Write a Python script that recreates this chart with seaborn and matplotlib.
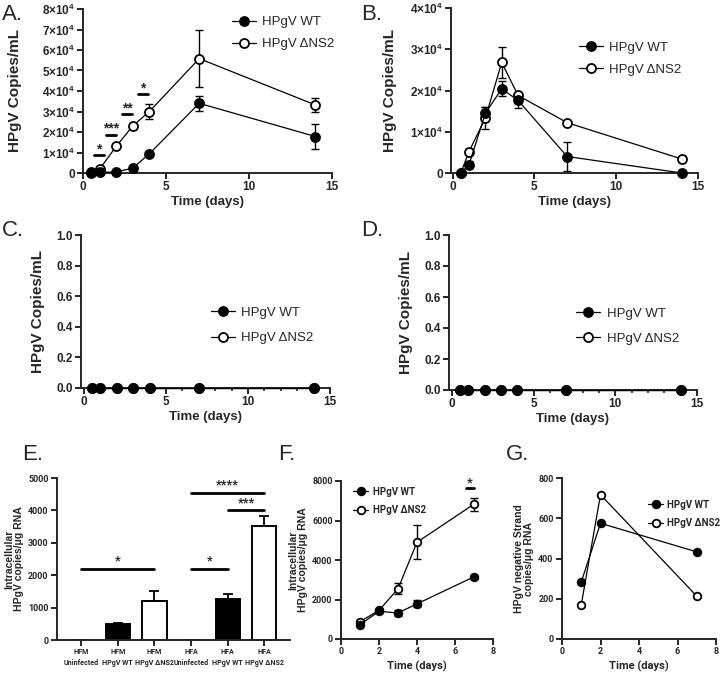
import numpy as np
import pandas as pd
import matplotlib
matplotlib.use("Agg")
import matplotlib.pyplot as plt
import seaborn as sns
from matplotlib import font_manager as fm
from matplotlib.ticker import FuncFormatter, MultipleLocator

# ---- data ----
days = [0.5, 1, 2, 3, 4, 7, 14]
a_wt = [0, 300, 500, 2400, 9400, 34000, 17800]
a_wt_sd = [0, 0, 0, 300, 500, 3600, 6100]
a_dn = [600, 1900, 13000, 23000, 30000, 55800, 33200]
a_dn_sd = [0, 300, 500, 600, 3900, 13900, 3200]
a_sig_x = [0.95, 1.7, 2.65, 3.6]
a_sig_y = [8600, 18700, 28700, 38500]
a_sig_txt = ["*", "***", "**", "*"]

b_wt = [0, 2000, 14500, 20400, 17600, 4000, 0]
b_wt_sd = [0, 800, 1500, 1800, 1800, 3500, 0]
b_dn = [0, 5200, 13300, 26800, 18800, 12200, 3400]
b_dn_sd = [0, 500, 2700, 3800, 500, 300, 800]

c_wt = [0, 0, 0, 0, 0, 0, 0]
c_dn = [0, 0, 0, 0, 0, 0, 0]
d_wt = [0, 0, 0, 0, 0, 0, 0]
d_dn = [0, 0, 0, 0, 0, 0, 0]

e_labels = ["HFM\nUninfected", "HFM\nHPgV WT", "HFM\nHPgV \u0394NS2",
            "HFA\nUninfected", "HFA\nHPgV WT", "HFA\nHPgV \u0394NS2"]
e_vals = [0, 490, 1210, 0, 1270, 3520]
e_sd = [0, 20, 290, 0, 150, 300]
e_colors = ["white", "black", "white", "white", "black", "white"]
e_sig = [(0, 2, 2200, "*"), (3, 4, 2200, "*"), (3, 5, 4550, "****"), (4, 5, 4000, "***")]

f_days = [1, 2, 3, 4, 7]
f_wt = [730, 1400, 1320, 1780, 3150]
f_wt_sd = [90, 100, 150, 180, 100]
f_dn = [880, 1450, 2540, 4900, 6830]
f_dn_sd = [60, 80, 280, 850, 330]

g_days = [1, 2, 7]
g_wt = [283, 575, 433]
g_dn = [170, 717, 213]

WT = "HPgV WT"
DN = "HPgV \u0394NS2"

sns.set_style("ticks")
plt.rcParams["font.family"] = ["Liberation Sans", "DejaVu Sans"]
plt.rcParams["mathtext.fontset"] = "custom"
plt.rcParams["mathtext.rm"] = "Liberation Sans"
plt.rcParams["mathtext.bf"] = "Liberation Sans:bold"
plt.rcParams["axes.linewidth"] = 1.4
plt.rcParams["xtick.major.width"] = 1.4
plt.rcParams["ytick.major.width"] = 1.4
plt.rcParams["xtick.major.size"] = 4
plt.rcParams["ytick.major.size"] = 4
plt.rcParams["xtick.minor.width"] = 1.2
plt.rcParams["xtick.minor.size"] = 2.5


# narrow-ish bold face for the lower row (no condensed family is installed)
def nfp(size):
    return fm.FontProperties(family=["Roboto", "Liberation Sans"], weight="bold", size=size)


W, H = 720, 683
fig = plt.figure(figsize=(7.2, 6.83), dpi=100)


def add_ax(l, t, r, b):
    return fig.add_axes([l / W, 1 - b / H, (r - l) / W, (b - t) / H])


def label(x, y, s):
    fig.text(x / W, 1 - y / H, s, fontsize=16, ha="left", va="center")


def growth(ax, x, wt, dn, wt_sd=None, dn_sd=None, ms=6.5, lw=0.9):
    for vals, sd, face, name, z in [(dn, dn_sd, "white", DN, 3), (wt, wt_sd, "black", WT, 4)]:
        if sd is not None:
            xs = [a for a, s in zip(x, sd) if s > 0]
            ys = [v for v, s in zip(vals, sd) if s > 0]
            ss = [s for s in sd if s > 0]
            ax.errorbar(xs, ys, yerr=ss, fmt="none", ecolor="black", elinewidth=1,
                        capsize=3, capthick=1, zorder=2)
        sns.lineplot(x=x, y=vals, ax=ax, color="black", lw=lw, marker="o", markersize=ms,
                     markerfacecolor=face, markeredgecolor="black", markeredgewidth=1.3,
                     label=name, zorder=z, clip_on=False)
    h, l = ax.get_legend_handles_labels()
    return h[::-1], l[::-1]


def style(ax, fs_tick=8.5, narrow=False):
    sns.despine(ax=ax)
    for t in ax.get_xticklabels() + ax.get_yticklabels():
        if narrow:
            t.set_fontproperties(nfp(fs_tick))
        else:
            t.set_fontweight("bold")
            t.set_fontsize(fs_tick)
    ax.tick_params(pad=2)


sci = FuncFormatter(lambda v, p: "0" if v == 0 else
                    f"{int(round(v / 1e4))}\u00d710" + r"$^{\mathbf{4}}$")

# ---- A ----
ax = add_ax(83, 9, 332, 173)
h, l = growth(ax, days, a_wt, a_dn, a_wt_sd, a_dn_sd)
for sx, sy, st in zip(a_sig_x, a_sig_y, a_sig_txt):
    ax.plot([sx - 0.3, sx + 0.3], [sy, sy], color="black", lw=2)
    ax.text(sx, sy - 600, st, ha="center", va="bottom", fontsize=10, fontweight="bold")
ax.set_xlim(0, 15)
ax.set_ylim(0, 80000)
ax.set_xticks([0, 5, 10, 15])
ax.yaxis.set_major_locator(MultipleLocator(10000))
ax.yaxis.set_major_formatter(sci)
ax.set_xlabel("Time (days)", fontsize=9.5, fontweight="bold", labelpad=2)
ax.set_ylabel("HPgV Copies/mL", fontsize=11, fontweight="bold", labelpad=14)
ax.legend(h, l, frameon=False, loc="upper left", bbox_to_anchor=(0.55, 1.03),
          fontsize=9.5, handlelength=1.8, handletextpad=0.5, labelspacing=0.75)
style(ax)
label(2, 14, "A.")

# ---- B ----
ax = add_ax(451, 8, 698, 173)
h, l = growth(ax, days, b_wt, b_dn, b_wt_sd, b_dn_sd)
ax.set_xlim(-0.1, 15)
ax.set_ylim(0, 40000)
ax.set_xticks([0, 5, 10, 15])
ax.yaxis.set_major_locator(MultipleLocator(10000))
ax.yaxis.set_major_formatter(sci)
ax.set_xlabel("Time (days)", fontsize=9.5, fontweight="bold", labelpad=2)
ax.set_ylabel("HPgV Copies/mL", fontsize=11, fontweight="bold", labelpad=9)
ax.legend(h, l, frameon=False, loc="upper left", bbox_to_anchor=(0.47, 0.87),
          fontsize=9.5, handlelength=1.8, handletextpad=0.5, labelspacing=0.75)
style(ax)
label(361, 14, "B.")

# ---- C, D ----
for (l0, t0, r0, b0), wt, dn, lab, lx, lgx in [((81, 235, 330, 388), c_wt, c_dn, "C.", 2, 0.475),
                                              ((449, 235, 697, 390), d_wt, d_dn, "D.", 361, 0.465)]:
    ax = add_ax(l0, t0, r0, b0)
    h, l = growth(ax, days, wt, dn, ms=6.5)
    ax.set_xlim(-0.18, 15)
    ax.set_ylim(0, 1)
    ax.set_xticks([0, 5, 10, 15])
    ax.xaxis.set_minor_locator(MultipleLocator(1))
    ax.set_yticks([0, 0.2, 0.4, 0.6, 0.8, 1.0])
    ax.yaxis.set_major_formatter(FuncFormatter(lambda v, p: f"{v:.1f}"))
    ax.set_xlabel("Time (days)", fontsize=9.5, fontweight="bold", labelpad=2)
    ax.set_ylabel("HPgV Copies/mL", fontsize=11, fontweight="bold", labelpad=8)
    ax.legend(h, l, frameon=False, loc="upper left", bbox_to_anchor=(lgx, 0.61),
              fontsize=9.5, handlelength=1.8, handletextpad=0.5, labelspacing=1.0)
    style(ax)
    label(lx, 231, lab)

# ---- E ----
ax = add_ax(57, 478, 290, 640)
sns.barplot(x=e_labels, y=e_vals, hue=e_labels, palette=e_colors, legend=False,
            edgecolor="black", linewidth=1.4, width=0.66, ax=ax, zorder=2)
xs = np.arange(len(e_labels))
ax.errorbar(xs[[1, 2, 4, 5]], np.array(e_vals)[[1, 2, 4, 5]],
            yerr=[np.zeros(4), np.array(e_sd)[[1, 2, 4, 5]]], fmt="none",
            ecolor="black", elinewidth=1.3, capsize=3.5, capthick=1.3, zorder=1)
for x0, x1, y, st in e_sig:
    ax.plot([x0, x1], [y, y], color="black", lw=2)
    ax.text((x0 + x1) / 2, y + 40, st, ha="center", va="bottom",
            fontproperties=nfp(9))
ax.set_xlim(-0.66, 5.7)
ax.set_ylim(0, 5000)
ax.set_yticks([0, 1000, 2000, 3000, 4000, 5000])
ax.set_ylabel("Intracellular\nHPgV copies/\u03bcg RNA", fontsize=7.5,
              fontweight="bold", labelpad=3, linespacing=1.0)
style(ax, fs_tick=6.5, narrow=True)
for t in ax.get_xticklabels():
    t.set_fontproperties(nfp(5.1))
    t.set_linespacing(1.5)
label(22, 454, "E.")

# ---- F ----
ax = add_ax(341, 481, 493, 639)
h, l = growth(ax, f_days, f_wt, f_dn, f_wt_sd, f_dn_sd, ms=5.5)
ax.plot([6.6, 7.0], [7650, 7650], color="black", lw=2)
ax.text(6.8, 7600, "*", ha="center", va="bottom", fontproperties=nfp(9))
ax.set_xlim(0, 8)
ax.set_ylim(0, 8000)
ax.set_xticks([0, 2, 4, 6, 8])
ax.set_yticks([0, 2000, 4000, 6000, 8000])
ax.set_xlabel("Time (days)", labelpad=3, fontproperties=nfp(8))
ax.set_ylabel("Intracellular\nHPgV copies/\u03bcg RNA", fontsize=7.5,
              fontweight="bold", labelpad=3, linespacing=1.0)
ax.legend(h, l, frameon=False, loc="upper left", bbox_to_anchor=(0.02, 1.02),
          prop=nfp(7), handlelength=1.6, handletextpad=0.5, labelspacing=0.9)
style(ax, fs_tick=6.5, narrow=True)
label(278, 454, "F.")

# ---- G ----
ax = add_ax(562, 478, 716, 639)
h, l = growth(ax, g_days, g_wt, g_dn, ms=5.5)
ax.set_xlim(0, 8)
ax.set_ylim(0, 800)
ax.set_xticks([0, 2, 4, 6, 8])
ax.set_yticks([0, 200, 400, 600, 800])
ax.set_xlabel("Time (days)", labelpad=3, fontproperties=nfp(8))
ax.set_ylabel("HPgV negative Strand\ncopies/\u03bcg RNA", fontsize=7.5,
              fontweight="bold", labelpad=3, linespacing=1.0)
ax.legend(h, l, frameon=False, loc="upper left", bbox_to_anchor=(0.5, 0.92),
          prop=nfp(7), handlelength=1.6, handletextpad=0.4, labelspacing=0.9)
style(ax, fs_tick=6.5, narrow=True)
label(506, 454, "G.")

fig.savefig("out.png", dpi=100)
